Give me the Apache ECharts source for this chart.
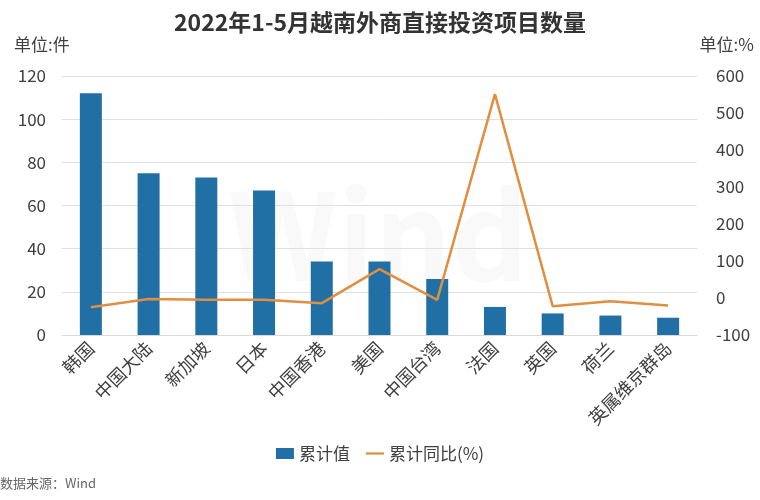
<!DOCTYPE html>
<html>
<head>
<meta charset="utf-8">
<script src="https://cdn.jsdelivr.net/npm/echarts@6/dist/echarts.min.js"></script>
<style>html,body{margin:0;padding:0;background:#fff;}#main{width:760px;height:500px;}</style>
</head>
<body>
<div id="main"></div>
<script>
const categories = ['韩国','中国大陆','新加坡','日本','中国香港','美国','中国台湾','法国','英国','荷兰','英属维京群岛'];
const cumulativeCount = [112, 75, 73, 67, 34, 34, 26, 13, 10, 9, 8];
const yoyPct = [-25, -3, -5, -5, -14, 78, -5, 551, -22, -9, -20];
const leftTicks = {min: 0, max: 120, interval: 20};
const rightTicks = {min: -100, max: 600, interval: 100};

const FONT = '"Noto Sans CJK SC", "Noto Sans", sans-serif';
const chart = echarts.init(document.getElementById('main'), null, {renderer: 'canvas'});
chart.setOption({
  backgroundColor: '#ffffff',
  textStyle: {fontFamily: FONT},
  animation: false,
  title: {
    text: '2022年1-5月越南外商直接投资项目数量',
    left: 'center', top: 6,
    textStyle: {fontSize: 23, fontWeight: 'bold', color: '#333333', fontFamily: FONT}
  },
  graphic: [
    {type: 'text', left: 14, top: 36, style: {text: '单位:件', fill: '#404040', font: '17px ' + FONT}},
    {type: 'text', right: 6, top: 36, style: {text: '单位:%', fill: '#404040', font: '17px ' + FONT}},
    {type: 'text', left: 0, top: 477, style: {text: '数据来源：Wind', fill: '#666666', font: '13px ' + FONT}},
    {type: 'text', left: 228, top: 175, z: -1, style: {text: 'Wind', fill: 'rgba(0,0,0,0.022)', font: 'bold 120px ' + FONT}}
  ],
  legend: {
    left: 'center', top: 440,
    itemWidth: 18, itemHeight: 11, itemGap: 16,
    textStyle: {fontSize: 17, color: '#404040', fontFamily: FONT},
    data: [
      {name: '累计值', icon: 'rect'},
      {name: '累计同比(%)', icon: 'path://M0,0H24V3H0Z'}
    ]
  },
  grid: {left: 62, right: 63, top: 76, bottom: 165, containLabel: false},
  xAxis: {
    type: 'category',
    data: categories,
    axisLine: {lineStyle: {color: '#d9d9d9'}},
    axisTick: {show: false},
    axisLabel: {interval: 0, rotate: 45, fontSize: 18, color: '#404040', margin: 10, fontFamily: FONT}
  },
  yAxis: [
    {
      type: 'value', min: leftTicks.min, max: leftTicks.max, interval: leftTicks.interval,
      axisLine: {show: false}, axisTick: {show: false},
      axisLabel: {fontSize: 17, color: '#404040', margin: 16, fontFamily: FONT},
      splitLine: {lineStyle: {color: '#e0e0e0'}}
    },
    {
      type: 'value', min: rightTicks.min, max: rightTicks.max, interval: rightTicks.interval,
      axisLine: {show: false}, axisTick: {show: false},
      axisLabel: {fontSize: 17, color: '#404040', margin: 19, fontFamily: FONT},
      splitLine: {show: false}
    }
  ],
  series: [
    {
      name: '累计值', type: 'bar', data: cumulativeCount, yAxisIndex: 0,
      barWidth: 22, itemStyle: {color: '#2070A6'}
    },
    {
      name: '累计同比(%)', type: 'line', data: yoyPct, yAxisIndex: 1,
      symbol: 'none', lineStyle: {color: '#E08E40', width: 2.5}, itemStyle: {color: '#E08E40'}
    }
  ]
});
</script>
</body>
</html>
